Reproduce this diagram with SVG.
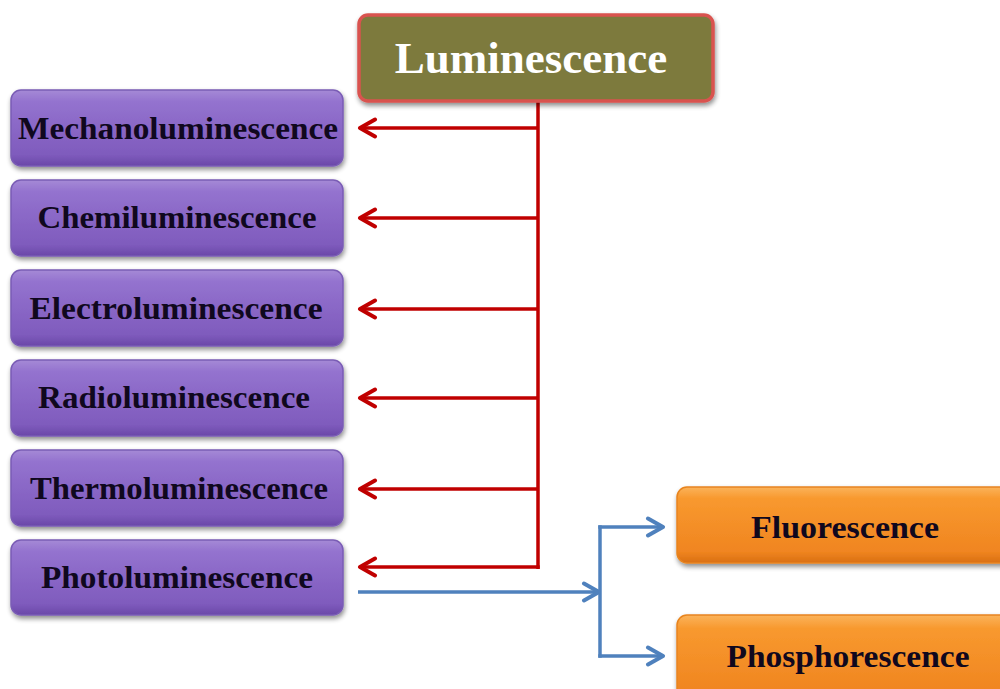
<svg xmlns="http://www.w3.org/2000/svg" width="1000" height="689" viewBox="0 0 1000 689">
<defs>
<linearGradient id="gp" x1="0" y1="0" x2="0" y2="1">
<stop offset="0" stop-color="#a58ad6"/><stop offset="0.15" stop-color="#9473cf"/><stop offset="0.85" stop-color="#7f5bbd"/><stop offset="1" stop-color="#6a48a8"/>
</linearGradient>
<linearGradient id="go" x1="0" y1="0" x2="0" y2="1">
<stop offset="0" stop-color="#fbb35a"/><stop offset="0.15" stop-color="#f8992f"/><stop offset="0.85" stop-color="#f08520"/><stop offset="1" stop-color="#d96f12"/>
</linearGradient>
<filter id="sh" x="-5%" y="-10%" width="115%" height="130%">
<feGaussianBlur in="SourceAlpha" stdDeviation="2.5"/><feOffset dx="1" dy="3"/>
<feComponentTransfer><feFuncA type="linear" slope="0.45"/></feComponentTransfer>
<feMerge><feMergeNode/><feMergeNode in="SourceGraphic"/></feMerge>
</filter>
<marker id="ar" viewBox="0 0 22 22" refX="19" refY="11" markerWidth="22" markerHeight="22" markerUnits="userSpaceOnUse" orient="auto">
<path d="M4 2.5 L19 11 L4 19.5" fill="none" stroke="#c00000" stroke-width="4" stroke-linecap="round" stroke-linejoin="round"/>
</marker>
<marker id="ab" viewBox="0 0 22 22" refX="19" refY="11" markerWidth="22" markerHeight="22" markerUnits="userSpaceOnUse" orient="auto">
<path d="M4 2.5 L19 11 L4 19.5" fill="none" stroke="#4f81bd" stroke-width="4" stroke-linecap="round" stroke-linejoin="round"/>
</marker>
</defs>
<style>
.pb{fill:url(#gp);stroke:#7a5cb5;stroke-width:1.5;filter:url(#sh)}
.ob{fill:url(#go);stroke:#e8841f;stroke-width:1.5;filter:url(#sh)}
.t{font-family:"Liberation Serif","Times New Roman",serif;font-weight:bold;font-size:32px;fill:#10081e;text-anchor:middle}
.r{fill:none;stroke:#c00000;stroke-width:3.5}
.b{fill:none;stroke:#4f81bd;stroke-width:3.5}
</style>
<rect width="1000" height="689" fill="#ffffff"/>
<g id="connectors">
<path class="r" d="M538 102 V569"/>
<path class="r" d="M538 128 H360" marker-end="url(#ar)"/>
<path class="r" d="M538 218 H360" marker-end="url(#ar)"/>
<path class="r" d="M538 309 H360" marker-end="url(#ar)"/>
<path class="r" d="M538 398 H360" marker-end="url(#ar)"/>
<path class="r" d="M538 489 H360" marker-end="url(#ar)"/>
<path class="r" d="M539.7 567 H360" marker-end="url(#ar)"/>
<path class="b" d="M358 592 H599" marker-end="url(#ab)"/>
<path class="b" d="M600 525.3 V657.7"/>
<path class="b" d="M598.3 527 H663" marker-end="url(#ab)"/>
<path class="b" d="M598.3 656 H663" marker-end="url(#ab)"/>
</g>
<g id="luminescence">
<rect x="359" y="15" width="354" height="86" rx="9" fill="#7d7a3c" stroke="#d9534f" stroke-width="3.5" filter="url(#sh)"/>
<text x="531" y="73" font-family="'Liberation Serif','Times New Roman',serif" font-weight="bold" font-size="45" fill="#ffffff" text-anchor="middle">Luminescence</text>
</g>
<g id="mechano"><rect class="pb" x="11" y="90" width="332" height="76" rx="10"/><text class="t" x="178" y="139" textLength="320" lengthAdjust="spacingAndGlyphs">Mechanoluminescence</text></g>
<g id="chemi"><rect class="pb" x="11" y="180" width="332" height="76" rx="10"/><text class="t" x="177" y="228" textLength="279" lengthAdjust="spacingAndGlyphs">Chemiluminescence</text></g>
<g id="electro"><rect class="pb" x="11" y="270" width="332" height="76" rx="10"/><text class="t" x="176" y="319" textLength="293" lengthAdjust="spacingAndGlyphs">Electroluminescence</text></g>
<g id="radio"><rect class="pb" x="11" y="360" width="332" height="76" rx="10"/><text class="t" x="174" y="408" textLength="272" lengthAdjust="spacingAndGlyphs">Radioluminescence</text></g>
<g id="thermo"><rect class="pb" x="11" y="450" width="332" height="76" rx="10"/><text class="t" x="179" y="499" textLength="298" lengthAdjust="spacingAndGlyphs">Thermoluminescence</text></g>
<g id="photo"><rect class="pb" x="11" y="540" width="332" height="75" rx="10"/><text class="t" x="177" y="588" textLength="272" lengthAdjust="spacingAndGlyphs">Photoluminescence</text></g>
<g id="fluorescence"><rect class="ob" x="677" y="487" width="340" height="76" rx="10"/><text class="t" x="845" y="538" textLength="188" lengthAdjust="spacingAndGlyphs">Fluorescence</text></g>
<g id="phosphorescence"><rect class="ob" x="677" y="615" width="340" height="90" rx="10"/><text class="t" x="848" y="667" textLength="243" lengthAdjust="spacingAndGlyphs">Phosphorescence</text></g>
</svg>
